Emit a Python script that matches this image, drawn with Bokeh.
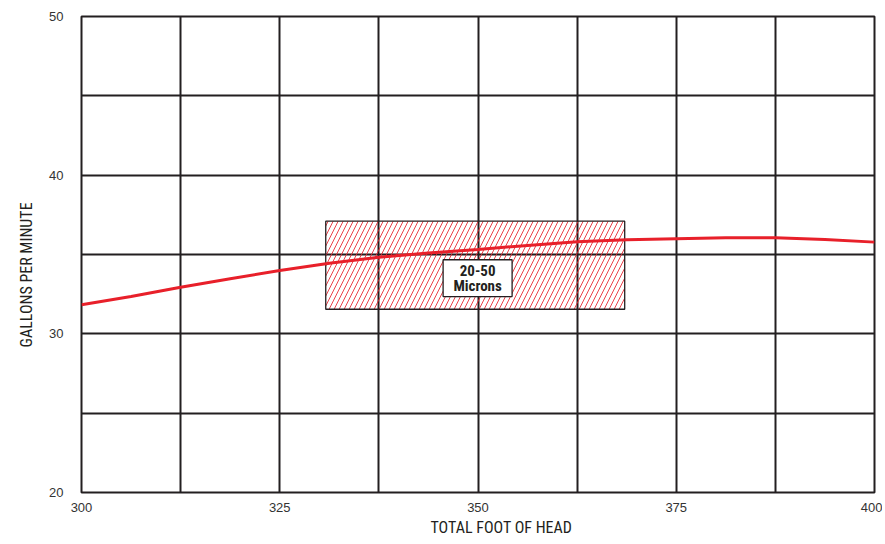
from bokeh.plotting import figure
from bokeh.models import FixedTicker, Title
from bokeh.core.properties import value
from bokeh.embed import file_html
from bokeh.resources import INLINE

# Pump curve: total foot of head vs gallons per minute
head_ft = [300, 306.25, 312.5, 318.75, 325, 331.25, 337.5, 343.75, 350,
           356.25, 362.5, 368.75, 375, 381.25, 387.5, 393.75, 400]
gpm = [31.83, 32.35, 32.94, 33.47, 33.99, 34.45, 34.83, 35.1, 35.32,
       35.57, 35.8, 35.93, 36.0, 36.05, 36.05, 35.95, 35.78]

# Operating zone (20-50 micron filtration)
zone_left = [330.8]
zone_right = [368.5]
zone_bottom = [31.55]
zone_top = [37.1]

# Zone label box
label_left = [345.6]
label_right = [354.3]
label_bottom = [32.35]
label_top = [34.67]
label_lines = ["20-50", "Microns"]
label_x = [349.95, 349.95]
label_y = [34.0, 33.02]

x_ticks = [300, 325, 350, 375, 400]
y_ticks = [20, 30, 40, 50]
x_grid = [300, 312.5, 325, 337.5, 350, 362.5, 375, 387.5, 400]
y_grid = [20, 25, 30, 35, 40, 45, 50]

x_title = "TOTAL FOOT OF HEAD"
y_title = "GALLONS PER MINUTE"

COND = "Liberation Sans Narrow, Roboto Condensed, Arial Narrow, sans-serif"
INK = "#231f20"
RED = "#e8202a"

p = figure(frame_width=793, frame_height=476,
           min_border_left=81, min_border_right=8,
           min_border_top=16, min_border_bottom=50,
           x_range=(300, 400), y_range=(20, 50),
           output_backend="svg", toolbar_location=None)

p.xaxis.ticker = FixedTicker(ticks=x_ticks)
p.yaxis.ticker = FixedTicker(ticks=y_ticks)
p.xgrid.ticker = FixedTicker(ticks=x_grid)
p.ygrid.ticker = FixedTicker(ticks=y_grid)
for g in (p.xgrid, p.ygrid):
    g.grid_line_color = INK
    g.grid_line_width = 2
    g.grid_line_alpha = 1

p.outline_line_color = INK
p.outline_line_width = 2
p.outline_line_alpha = 1

for ax in (p.xaxis, p.yaxis):
    ax.axis_line_color = None
    ax.major_tick_line_color = None
    ax.minor_tick_line_color = None
    ax.major_label_text_font = "Liberation Sans, Arial, sans-serif"
    ax.major_label_text_font_size = "13px"
    ax.major_label_text_color = "#333333"

p.xaxis.major_label_standoff = 4
p.yaxis.major_label_standoff = 12

xt = Title(text=x_title, align="left", offset=349, standoff=2,
           text_font=COND, text_font_size="16px", text_font_style="normal",
           text_color=INK)
p.add_layout(xt, "below")
yt = Title(text=y_title, align="left", offset=145, standoff=21,
           text_font=COND, text_font_size="16px", text_font_style="normal",
           text_color=INK)
p.add_layout(yt, "left")

# Hatched zone
p.quad(left=zone_left, right=zone_right, bottom=zone_bottom, top=zone_top,
       fill_alpha=0, hatch_pattern="/", hatch_color=RED, hatch_scale=10,
       hatch_weight=1.0, hatch_alpha=0.85, line_color=INK, line_width=1.3)

# Pump curve
p.line(head_ft, gpm, line_color=RED, line_width=3)

# Label box
p.quad(left=label_left, right=label_right, bottom=label_bottom, top=label_top,
       fill_color="white", line_color=INK, line_width=1.3)
p.text(x=label_x, y=label_y, text=label_lines,
       text_font=value(COND), text_font_style="bold",
       text_font_size="15px", text_color=INK,
       text_align="center", text_baseline="middle")

open("out.html", "w").write(file_html(p, INLINE))
